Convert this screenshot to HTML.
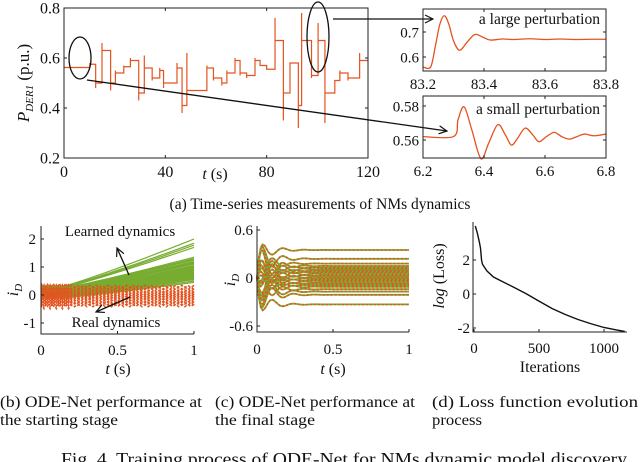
<!DOCTYPE html>
<html><head><meta charset="utf-8">
<style>
html,body{margin:0;padding:0;background:#fff;}
svg{display:block;font-family:"Liberation Serif",serif;}
</style></head>
<body>
<svg id="fig" width="640" height="462" viewBox="0 0 640 462" xmlns="http://www.w3.org/2000/svg"></svg>
<script>
// ---------- data ----------
const stepTimes = [0,10.2,12.5,15,18.4,20.3,23.6,26.2,29.5,31.7,34.8,37.8,39.3,44.6,46.6,48.5,56.4,59,62.3,64.3,67.5,69.5,72.1,75.4,77.4,80,83.3,86.6,89.2,92.5,93.8,97.7,100.3,103,106.9,108.9,112.1,116.7];
const stepValues = [0.562,0.575,0.50,0.63,0.50,0.54,0.565,0.59,0.46,0.56,0.52,0.55,0.50,0.56,0.41,0.47,0.56,0.52,0.50,0.54,0.59,0.54,0.53,0.59,0.57,0.555,0.67,0.46,0.58,0.41,0.67,0.53,0.67,0.46,0.51,0.54,0.52,0.59];
const stepSpikes = [0.562,0.58,0.48,0.66,0.47,0.55,0.57,0.60,0.43,0.61,0.51,0.56,0.48,0.58,0.38,0.62,0.57,0.51,0.49,0.55,0.60,0.53,0.52,0.60,0.58,0.56,0.76,0.35,0.58,0.32,0.78,0.52,0.74,0.34,0.50,0.55,0.51,0.62];
const mainYTicks = [0.2,0.4,0.6,0.8];
const mainXTicks = [0,40,80,120];
const largeT = [83.2,83.225,83.24,83.255,83.27,83.285,83.3,83.32,83.345,83.37,83.395,83.42,83.46,83.5,83.55,83.6,83.65,83.7,83.75,83.8];
const largeV = [0.56,0.56,0.64,0.73,0.765,0.73,0.665,0.627,0.66,0.69,0.68,0.668,0.672,0.670,0.673,0.670,0.672,0.670,0.671,0.671];
const largeYTicks = [0.6,0.7];
const largeXTicks = [83.2,83.4,83.6,83.8];
const smallT = [6.2,6.3,6.315,6.335,6.36,6.39,6.415,6.445,6.47,6.49,6.51,6.535,6.56,6.58,6.605,6.63,6.655,6.68,6.705,6.73,6.76,6.8];
const smallV = [0.562,0.562,0.572,0.5795,0.566,0.549,0.558,0.569,0.563,0.557,0.561,0.567,0.563,0.559,0.562,0.5645,0.562,0.5605,0.562,0.5635,0.5625,0.5635];
const smallYTicks = [0.56,0.58];
const smallXTicks = [6.2,6.4,6.6,6.8];
const learnedEnd = [2.0,1.85,1.78,1.7,1.35,1.3,1.25,1.2,1.15,1.1,1.05,1.0,0.95,0.9,0.85,0.8,0.75,0.7,0.65,0.6,0.55,0.5,0.45,1.28,1.18,0.98,0.88,0.78,0.68,0.58,1.12,1.02,0.92,0.82,0.72,0.62];
const learnedStart = [0.32,0.3,0.28,0.27,0.25,0.24,0.22,0.2,0.18,0.16,0.14,0.12,0.1,0.08,0.06,0.04,0.02,0.0,-0.02,-0.04,-0.06,-0.08,-0.1,0.26,0.21,0.15,0.09,0.03,-0.01,-0.05,0.19,0.13,0.07,0.01,-0.03,-0.07];
const realLevels = [0.3,0.24,0.18,0.13,0.08,0.04,0.0,-0.04,-0.08,-0.12,-0.17,-0.22,-0.27,-0.32,-0.37];
const bYTicks = [-1,0,1,2];
const bXTicks = [0,0.5,1];
const finalLevels = [0.35,0.24,0.18,0.15,0.13,0.11,0.09,0.07,0.05,0.03,0.01,-0.01,-0.03,-0.05,-0.07,-0.09,-0.11,-0.14,-0.17,-0.21,-0.33];
const finalAmps = [0.2,0.3,-0.25,0.35,-0.3,0.4,-0.2,0.25,-0.45,0.3,-0.35,0.2,-0.25,0.3,-0.2,0.15,-0.3,0.28,-0.3,-0.3,-0.2];
const cYTicks = [-0.6,0,0.6];
const cXTicks = [0,0.5,1];
const lossIter = [10,25,40,50,58,65,100,150,200,300,400,500,600,700,800,900,1000,1100,1160];
const lossVal = [4.0,3.6,3.1,2.7,2.0,1.75,1.35,1.0,0.8,0.42,0.02,-0.42,-0.85,-1.2,-1.5,-1.75,-1.97,-2.12,-2.2];
const dYTicks = [-2,0,2];
const dXTicks = [0,500,1000];

// ---------- helpers ----------
const NS = "http://www.w3.org/2000/svg";
const svg = document.getElementById('fig');
function el(tag, attrs, parent){
  const e = document.createElementNS(NS, tag);
  for (const k in attrs) e.setAttribute(k, attrs[k]);
  (parent||svg).appendChild(e);
  return e;
}
function scale(d0,d1,r0,r1){return v => r0 + (v-d0)/(d1-d0)*(r1-r0);}
function txt(x,y,s,size,anchor,parent){
  const t = el('text',{x:x,y:y,'font-size':size,'text-anchor':anchor||'middle',fill:'#111'},parent);
  t.textContent = s;
  return t;
}
function axesBox(g,x0,y0,x1,y1,xs,ys,xt,yt,fmtX,fmtY,fs){
  const box = el('rect',{x:x0,y:y0,width:x1-x0,height:y1-y0,fill:'none',stroke:'#222','stroke-width':1},g);
  
  
  xt.forEach(v=>{
    const x = xs(v);
    const tk = el('path',{d:`M${x},${y1}v-3M${x},${y0}v3`,stroke:'#222','stroke-width':1},g);
    
    
    const l = txt(x,y1+fs+3,fmtX(v),fs,'middle',g);
    
    
  });
  yt.forEach(v=>{
    const y = ys(v);
    const tk = el('path',{d:`M${x0},${y}h3M${x1},${y}h-3`,stroke:'#222','stroke-width':1},g);
    
    
    const l = txt(x0-4,y+fs*0.35,fmtY(v),fs,'end',g);
    
    
  });
}
function smoothPath(xsArr,ysArr){
  let d = `M${xsArr[0]},${ysArr[0]}`;
  for(let i=0;i<xsArr.length-1;i++){
    const x0=xsArr[Math.max(i-1,0)],y0=ysArr[Math.max(i-1,0)];
    const x1=xsArr[i],y1=ysArr[i],x2=xsArr[i+1],y2=ysArr[i+1];
    const x3=xsArr[Math.min(i+2,xsArr.length-1)],y3=ysArr[Math.min(i+2,xsArr.length-1)];
    d += ` C${x1+(x2-x0)/6},${y1+(y2-y0)/6} ${x2-(x3-x1)/6},${y2-(y3-y1)/6} ${x2},${y2}`;
  }
  return d;
}
const ORANGE = '#E4531F', GREEN = '#77AC30';

const defs = el('defs',{});
const mk = el('marker',{id:'ah',markerWidth:10,markerHeight:10,refX:9,refY:5,orient:'auto',markerUnits:'userSpaceOnUse'},defs);
el('path',{d:'M1,1 L9,5 L1,9',fill:'none',stroke:'#111','stroke-width':1.2},mk);

// ---------- (a) main ----------
{
  const g = el('g',{});  
  const xs = scale(0,120,64,368), ys = scale(0.2,0.8,158,8);
  let d = `M${xs(stepTimes[0])},${ys(stepValues[0])}`;
  for(let i=1;i<stepTimes.length;i++){
    const x = xs(stepTimes[i]);
    d += ` L${x},${ys(stepValues[i-1])} L${x},${ys(stepSpikes[i])} L${x},${ys(stepValues[i])}`;
  }
  d += ` L${xs(120)},${ys(stepValues[stepValues.length-1])}`;
  const line = el('path',{d:d,fill:'none',stroke:ORANGE,'stroke-width':1.2},g);
   
  axesBox(g,64,8,368,158,xs,ys,mainXTicks,mainYTicks,v=>String(v),v=>v.toFixed(1),16);
  const xl = el('text',{x:215,y:179,'font-size':16,'text-anchor':'middle',fill:'#111'},g);
  xl.innerHTML = '<tspan font-style="italic">t</tspan> (s)';
   
  const yl = el('text',{x:0,y:0,'font-size':17,'text-anchor':'middle',fill:'#111',transform:'translate(29,83) rotate(-90)'},g);
  yl.innerHTML = '<tspan font-style="italic">P</tspan><tspan font-style="italic" font-size="11" dy="4">DER1</tspan><tspan dy="-4"> (p.u.)</tspan>';
   
  const e1 = el('ellipse',{cx:80,cy:58,rx:11,ry:21,fill:'none',stroke:'#111','stroke-width':1.3},g);
   
  const e2 = el('ellipse',{cx:318,cy:37,rx:11,ry:35,fill:'none',stroke:'#111','stroke-width':1.3},g);
   
  const a1 = el('path',{d:'M87,80 L447,131',stroke:'#111','stroke-width':1.3,fill:'none','marker-end':'url(#ah)'});
   
  const a2 = el('path',{d:'M333,19 L433,19',stroke:'#111','stroke-width':1.3,fill:'none','marker-end':'url(#ah)'});
   
  const cap = txt(320,209,'(a) Time-series measurements of NMs dynamics',15.5,'middle');
   
}
{
  const g = el('g',{});  
  const xs = scale(83.2,83.8,423,606), ys = scale(0.6,0.7,57,32);
  const p = el('path',{d:smoothPath(largeT.map(xs),largeV.map(ys)),fill:'none',stroke:ORANGE,'stroke-width':1.3},g);
   
  axesBox(g,423,9,606,71,xs,ys,largeXTicks,largeYTicks,v=>v.toFixed(1),v=>v.toFixed(1),15);
  const t = txt(600,24,'a large perturbation',15.5,'end',g);
   
}
{
  const g = el('g',{});  
  const xs = scale(6.2,6.8,423,606), ys = scale(0.56,0.58,140,106);
  const p = el('path',{d:smoothPath(smallT.map(xs),smallV.map(ys)),fill:'none',stroke:ORANGE,'stroke-width':1.3},g);
   
  axesBox(g,423,96,606,158,xs,ys,smallXTicks,smallYTicks,v=>v.toFixed(1),v=>v.toFixed(2),15);
  const t = txt(600,114,'a small perturbation',15.5,'end',g);
   
}
// ---------- (b) ----------
{
  const g = el('g',{});  
  const xs = scale(0,1,41,194), ys = scale(0,1,295,267);
  learnedEnd.forEach((E,i)=>{
    const S = learnedStart[i];
    let d='';
    for(let k=0;k<=20;k++){
      const t=k/20, s = t<0.15?0:Math.pow((t-0.15)/0.85,1.1);
      d += (k?' L':'M')+xs(t)+','+ys(S+(E-S)*s);
    }
    const p = el('path',{d:d,fill:'none',stroke:GREEN,'stroke-width':1.2},g);
     
  });
  realLevels.forEach((L,i)=>{
    let d='';
    for(let k=0;k<=50;k++){
      const t=k/50, osc = (k%2? 1:-1)*(t<0.2?0.12:0.05);
      d += (k?' L':'M')+xs(t).toFixed(2)+','+ys(L+osc*(i%2?1:-1)).toFixed(2);
    }
    const p = el('path',{d:d,fill:'none',stroke:ORANGE,'stroke-width':1.5,'stroke-dasharray':'3,2'},g);
     
  });
  const m = el('path',{d:`M41,226 V334 H194`,fill:'none',stroke:'#222','stroke-width':1},g);
   
  bYTicks.forEach(v=>{const y=ys(v);
    const tk=el('path',{d:`M41,${y}h3`,stroke:'#222'},g);  
    const l=txt(36,y+5,String(v),15,'end',g);  });
  bXTicks.forEach(v=>{const x=xs(v);
    const tk=el('path',{d:`M${x},334v-3`,stroke:'#222'},g);  
    const l=txt(x,355,String(v),15,'middle',g);  });
  const xl = el('text',{x:118,y:374,'font-size':16,'text-anchor':'middle',fill:'#111'},g);
  xl.innerHTML = '<tspan font-style="italic">t</tspan> (s)';
   
  const yl = el('text',{x:0,y:0,'font-size':16,'text-anchor':'middle',fill:'#111',transform:'translate(18,290) rotate(-90)'},g);
  yl.innerHTML = '<tspan font-style="italic">i</tspan><tspan font-style="italic" font-size="11" dy="4">D</tspan>';
   
  const l1 = txt(120,236,'Learned dynamics',15,'middle',g);  
  l1.setAttribute('stroke','#fff'); l1.setAttribute('stroke-width','3'); l1.setAttribute('paint-order','stroke');
  const l2 = txt(116,327,'Real dynamics',15,'middle',g);  
  l2.setAttribute('stroke','#fff'); l2.setAttribute('stroke-width','3'); l2.setAttribute('paint-order','stroke');
  const ar1 = el('path',{d:'M129,275 L117,248',stroke:'#111','stroke-width':1.3,fill:'none','marker-end':'url(#ah)'},g);
   
  const ar2 = el('path',{d:'M130,297 L96,312',stroke:'#111','stroke-width':1.3,fill:'none','marker-end':'url(#ah)'},g);
   
}
// ---------- (c) ----------
{
  const g = el('g',{});  
  const xs = scale(0,1,257,409), ys = scale(0,0.6,278,230);
  finalLevels.forEach((L,i)=>{
    const A = finalAmps[i];
    let d='';
    for(let k=0;k<=80;k++){
      const t=k/80;
      const v = L*(1-Math.exp(-t/0.02)) + A*Math.exp(-t/0.08)*Math.sin(2*Math.PI*t/0.14);
      d += (k?' L':'M')+xs(t).toFixed(2)+','+ys(v).toFixed(2);
    }
    const p = el('path',{d:d,fill:'none',stroke:GREEN,'stroke-width':1.8},g);
     
    const q = el('path',{d:d,fill:'none',stroke:ORANGE,'stroke-width':1.6,'stroke-dasharray':'2,2'},g);
     
  });
  const m = el('path',{d:`M257,226 V332 H409`,fill:'none',stroke:'#222','stroke-width':1},g);
   
  cYTicks.forEach(v=>{const y=ys(v);
    const tk=el('path',{d:`M257,${y}h3`,stroke:'#222'},g);  
    const l=txt(253,y+5,String(v),15,'end',g);  });
  cXTicks.forEach(v=>{const x=xs(v);
    const tk=el('path',{d:`M${x},332v-3`,stroke:'#222'},g);  
    const l=txt(x,354,String(v),15,'middle',g);  });
  const xl = el('text',{x:333,y:374,'font-size':16,'text-anchor':'middle',fill:'#111'},g);
  xl.innerHTML = '<tspan font-style="italic">t</tspan> (s)';
   
  const yl = el('text',{x:0,y:0,'font-size':16,'text-anchor':'middle',fill:'#111',transform:'translate(235,280) rotate(-90)'},g);
  yl.innerHTML = '<tspan font-style="italic">i</tspan><tspan font-style="italic" font-size="11" dy="4">D</tspan>';
   
}
// ---------- (d) ----------
{
  const g = el('g',{});  
  const xs = scale(0,1000,474,604), ys = scale(0,2,294,260);
  let d='';
  lossIter.forEach((it,i)=>{ d += (i?' L':'M')+xs(it)+','+ys(lossVal[i]); });
  const p = el('path',{d:d,fill:'none',stroke:'#111','stroke-width':1.4},g);
   
  const m = el('path',{d:`M473,222 V332 H627`,fill:'none',stroke:'#222','stroke-width':1},g);
   
  dYTicks.forEach(v=>{const y=ys(v);
    const tk=el('path',{d:`M473,${y}h3`,stroke:'#222'},g);  
    const l=txt(470,y+5,String(v),15,'end',g);  });
  dXTicks.forEach(v=>{const x=xs(v);
    const tk=el('path',{d:`M${x},332v-3`,stroke:'#222'},g);  
    const l=txt(x,353,String(v),15,'middle',g);  });
  const xl = txt(550,372,'Iterations',16,'middle',g);
   
  const yl = el('text',{x:0,y:0,'font-size':16,'text-anchor':'middle',fill:'#111',transform:'translate(444,276) rotate(-90)'},g);
  yl.innerHTML = '<tspan font-style="italic">log</tspan> (Loss)';
   
}
// ---------- captions ----------
[['caption-b-line1',0,407,'(b) ODE-Net performance at',202],
 ['caption-b-line2',0,425,'the starting stage',118],
 ['caption-c-line1',215,407,'(c) ODE-Net performance at',200],
 ['caption-c-line2',215,425,'the final stage',100],
 ['caption-d-line1',432,407,'(d) Loss function evolution',206],
 ['caption-d-line2',432,425,'process',50],
 ['figure-caption',61,465,'Fig. 4. Training process of ODE-Net for NMs dynamic model discovery',566]
].forEach(c=>{
  const t = el('text',{x:c[1],y:c[2],'font-size':c[0]==='figure-caption'?17.5:16,'text-anchor':'start',fill:'#111',textLength:c[4],lengthAdjust:'spacingAndGlyphs'});
  t.textContent = c[3];
  
  
});
</script>
</body></html>
